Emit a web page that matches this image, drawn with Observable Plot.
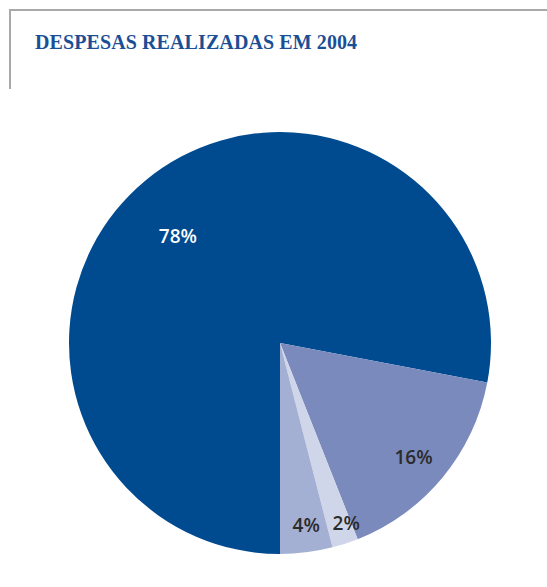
<!DOCTYPE html>
<html>
<head>
<meta charset="utf-8">
<script src="https://cdn.jsdelivr.net/npm/d3@7"></script>
<script src="https://cdn.jsdelivr.net/npm/@observablehq/plot@0.6"></script>
<style>
  html, body { margin: 0; padding: 0; background: #fff; }
  #wrap { position: relative; width: 547px; height: 587px; overflow: hidden; }
  #frame { position: absolute; left: 9px; top: 9px; width: 560px; height: 80px;
           border-top: 2px solid #a9a9a9; border-left: 2px solid #a9a9a9; box-sizing: border-box; }
  #title { position: absolute; left: 35px; top: 31px; margin: 0;
           font-family: "Liberation Serif", "DejaVu Serif", serif; font-weight: bold;
           font-size: 20px; color: #1b4f95; white-space: nowrap; letter-spacing: 0.1px; }
  #chart { position: absolute; left: 0; top: 95px; }
</style>
</head>
<body>
<div id="wrap">
  <div id="frame"></div>
  <div id="title">DESPESAS REALIZADAS EM 2004</div>
  <div id="chart"></div>
</div>
<script>
// Data
const labels = ["78%", "16%", "2%", "4%"];
const values = [78, 16, 2, 4];
const colors = ["#004a8f", "#7a8abd", "#d0d6ea", "#a4afd4"];
const labelColors = ["#ffffff", "#2b2b2b", "#2b2b2b", "#2b2b2b"];
// label placement (fraction of radius, angle shift in degrees from slice middle)
const labelRadius = [0.70, 0.83, 0.91, 0.875];
const labelShift = [-4.4, 1, -2, -0.8];

const data = values.map((v, i) => ({label: labels[i], value: v, color: colors[i], textColor: labelColors[i], lr: labelRadius[i], ls: labelShift[i]}));

const arcs = d3.pie().sort(null).value(d => d.value)
  .startAngle(Math.PI).endAngle(3 * Math.PI)(data);

const labelData = arcs.map(a => {
  const mid = (a.startAngle + a.endAngle) / 2 + a.data.ls * Math.PI / 180;
  return {label: a.data.label, color: a.data.textColor, x: a.data.lr * Math.sin(mid), y: a.data.lr * Math.cos(mid)};
});

function pieMark(index, scales, values, dimensions) {
  const cx = scales.x(0), cy = scales.y(0);
  const r = scales.x(1) - scales.x(0);
  const arcGen = d3.arc().innerRadius(0).outerRadius(r);
  const g = d3.create("svg:g").attr("transform", `translate(${cx},${cy})`);
  g.selectAll("path").data(arcs).join("path")
    .attr("d", arcGen)
    .attr("fill", d => d.data.color);
  return g.node();
}

const plot = Plot.plot({
  width: 547,
  height: 492,
  marginLeft: 69,
  marginRight: 56,
  marginTop: 37,
  marginBottom: 33,
  x: {domain: [-1, 1], axis: null},
  y: {domain: [-1, 1], axis: null},
  style: {background: "transparent"},
  marks: [
    pieMark,
    Plot.text(labelData, {
      x: "x", y: "y", text: "label", fill: "color",
      fontSize: 19, fontWeight: 600,
      fontFamily: "'Open Sans', 'DejaVu Sans', sans-serif"
    })
  ]
});
document.getElementById("chart").appendChild(plot);
</script>
</body>
</html>
